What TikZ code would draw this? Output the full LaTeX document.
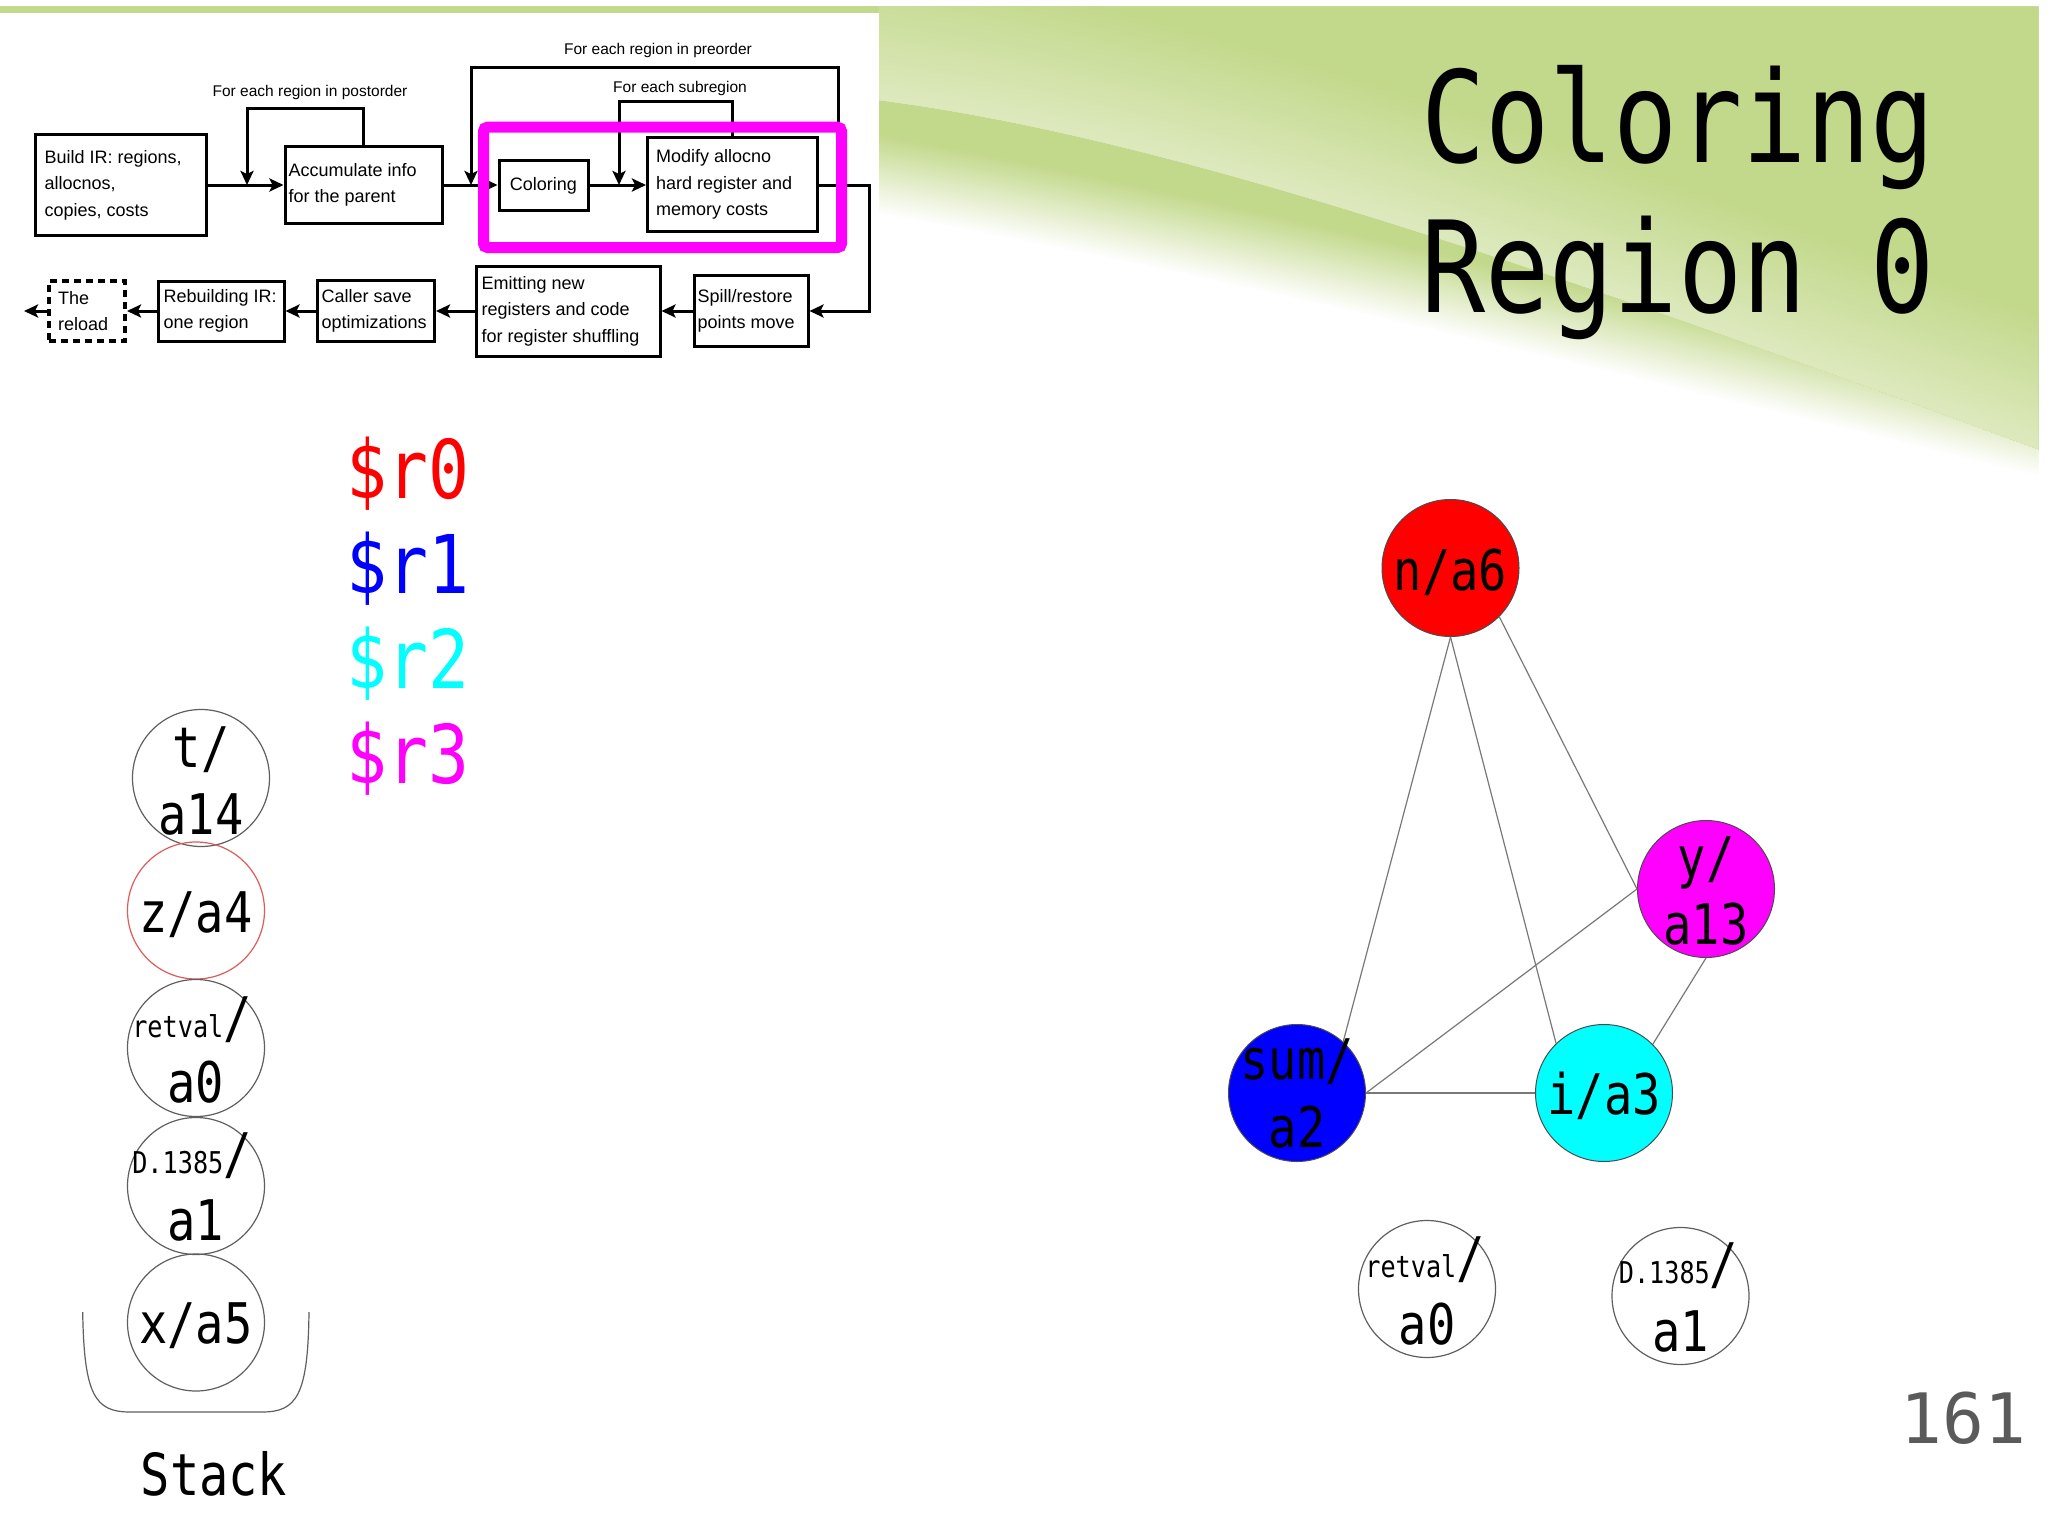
\documentclass[tikz,border=0pt]{standalone}
\usepackage{fontspec}
\usetikzlibrary{arrows.meta}
\newfontfamily\monof[FakeStretch=0.84]{DejaVu Sans Mono}
\newfontfamily\monon{DejaVu Sans Mono}
\newfontfamily\fcf{Liberation Sans}
\definecolor{bggreen}{RGB}{194,216,138}
\definecolor{pagegray}{RGB}{90,90,90}
\definecolor{nodeline}{RGB}{95,95,95}
\definecolor{edgegray}{RGB}{120,120,120}
\definecolor{zred}{RGB}{225,90,90}
\definecolor{pred}{RGB}{255,0,0}
\definecolor{pblue}{RGB}{0,0,255}
\definecolor{pcyan}{RGB}{0,255,255}
\definecolor{pmag}{RGB}{255,0,255}
\begin{document}
\begin{tikzpicture}[x=1pt,y=-1pt]
\tikzset{
 fbox/.style={draw, line width=3pt, inner sep=0pt},
 ftext/.style={font=\fcf\fontsize{18}{26.5}\selectfont, align=left, inner sep=0pt, anchor=west},
 farrow/.style={line width=3pt, -{Stealth[length=14pt,width=13pt,inset=3pt]}},
 flabel/.style={font=\fcf\fontsize{15.5}{18}\selectfont, inner sep=0pt, anchor=base},
 vnode/.style={circle, draw=nodeline, line width=1.2pt, minimum size=137pt, inner sep=0pt},
 gnode/.style={circle, draw=black!70, line width=1pt, minimum size=137pt, inner sep=0pt},
 vtxt/.style={font=\monof\fontsize{56}{67}\selectfont, inner sep=0pt, anchor=base},
 edge/.style={draw=edgegray, line width=1.2pt},
 legend/.style={font=\monof\fontsize{81}{81}\selectfont, inner sep=0pt, anchor=base west},
}
\newcommand\smallname[1]{{\fontsize{30}{30}\selectfont #1}/}
\useasboundingbox (0,0) rectangle (2048,1536);
% ---------- background ----------
\fill[white] (0,0) rectangle (2048,1536);
% fade of the green towards white along the lower curve (solid steps, light to dark)
\foreach \s in {0,2,...,80}{
  \pgfmathsetmacro\gp{\s*1.25}
  \fill[bggreen!\gp!white] (0,7) -- (2038,7) -- (2038,{477-\s}) .. controls (1700,{395-\s}) and (1200,{270-\s}) .. (879,{215-\s}) -- (879,13) -- (0,13) -- cycle;
}
% lighter swoosh above the upper curve
\begin{scope}
\clip (879,7) rectangle (2038,600);
\foreach \s in {135,132,...,3}{
  \pgfmathsetmacro\gq{100-45*(1-\s/138)}
  \fill[bggreen!\gq!white] (879,100) .. controls (1150,135) and (1500,250) .. (2038,449) -- (2038,{449-\s}) .. controls (1500,{250-\s}) and (1150,{135-\s}) .. (879,{100-\s}) -- cycle;
}
\end{scope}
% re-apply the lower fade where the swoosh crosses it
\begin{scope}
\clip (879,100) .. controls (1150,135) and (1500,250) .. (2038,449) -- (2038,7) -- (879,7) -- cycle;
\end{scope}
\fill[white] (0,13) rectangle (879,420);
% ---------- flowchart ----------
\node[fbox, minimum width=171pt, minimum height=100pt] (build) at (121,185) {};
\node[ftext] (buildT) at ([xshift=10.5pt]build.west) {Build IR: regions,\\allocnos,\\copies, costs};
\node[fbox, minimum width=157.5pt, minimum height=76pt] (accum) at (363.75,185) {};
\node[ftext] (accumT) at ([xshift=5pt]accum.west) {Accumulate info\\for the parent};
\node[fbox, minimum width=89pt, minimum height=50pt] (coloring) at (543.5,185.5) {};
\node[ftext, anchor=center] (coloringT) at (coloring.center) {Coloring};
\node[fbox, minimum width=169.5pt, minimum height=93.3pt] (modify) at (732.25,184.5) {};
\node[ftext] (modifyT) at ([xshift=10pt]modify.west) {Modify allocno\\hard register and\\memory costs};
\node[fbox, minimum width=113.5pt, minimum height=71.7pt] (spill) at (751.25,311) {};
\node[ftext] (spillT) at ([xshift=4.5pt]spill.west) {Spill/restore\\points move};
\node[fbox, minimum width=184pt, minimum height=90pt] (emit) at (568,311) {};
\node[ftext] (emitT) at ([xshift=7pt]emit.west) {Emitting new\\registers and code\\for register shuffling};
\node[fbox, minimum width=117.5pt, minimum height=61.7pt] (caller) at (375.75,311) {};
\node[ftext] (callerT) at ([xshift=6pt]caller.west) {Caller save\\optimizations};
\node[fbox, minimum width=126pt, minimum height=60pt] (rebuild) at (221,311) {};
\node[ftext] (rebuildT) at ([xshift=7pt]rebuild.west) {Rebuilding IR:\\one region};
\node[draw, line width=4pt, dash pattern=on 7pt off 5pt, inner sep=0pt, minimum width=76pt, minimum height=59.7pt] (reload) at (87,311) {};
\node[ftext] (reloadT) at ([xshift=11pt]reload.west) {The\\reload};
% loop labels
\node[flabel] (lpost) at (310,97) {For each region in postorder};
\node[flabel] (lpre) at (658,54.5) {For each region in preorder};
\node[flabel] (lsub) at (680,93) {For each subregion};
% connectors
\coordinate (postTop) at (247,109);
\coordinate (preTop) at (471,67.7);
\coordinate (preR) at (838,185);
\coordinate (subTop) at (619,101.7);
\draw[farrow] (build.east |- 0,185) -- (accum.west |- 0,185);
\draw[farrow] (accum.east |- 0,185) -- (coloring.west |- 0,185);
\draw[farrow] (coloring.east |- 0,185) -- (modify.west |- 0,185);
\draw[farrow] (accum.north) |- (postTop) -- (postTop |- 0,185);
\draw[farrow] (preR) |- (preTop) -- (preTop |- 0,185);
\draw[farrow] (modify.north) |- (subTop) -- (subTop |- 0,185);
\draw[farrow] (modify.east |- 0,185) -- ++(51,0) |- (spill.east);
\draw[farrow] (spill.west) -- (emit.east);
\draw[farrow] (emit.west) -- (caller.east);
\draw[farrow] (caller.west) -- (rebuild.east);
\draw[farrow] (rebuild.west) -- (reload.east);
\draw[farrow] (reload.west) -- ++(-23,0);
\node[draw=pmag, line width=11pt, rounded corners=4pt, inner sep=0pt, minimum width=358pt, minimum height=120.3pt] (hl) at (662.5,187.35) {};
% ---------- title ----------
\node[font=\monof\fontsize{127}{150}\selectfont, anchor=base west, inner sep=0pt] (title1) at (1421,163) {Coloring};
\node[font=\monof\fontsize{127}{150}\selectfont, anchor=base west, inner sep=0pt] (title2) at (1421,312) {Region 0};
% ---------- legend ----------
\node[legend, text=pred] (r0) at (346,498) {\$r0};
\node[legend, text=pblue] (r1) at (346,593) {\$r1};
\node[legend, text=pcyan] (r2) at (346,688) {\$r2};
\node[legend, text=pmag] (r3) at (346,783) {\$r3};
% ---------- stack ----------
\node[vnode] (ta14) at (201,778) {};
\node[vtxt] (ta14a) at ([yshift=11pt]ta14.center) {t/};
\node[vtxt] (ta14b) at ([yshift=-56pt]ta14.center) {a14};
\node[vnode, draw=zred] (za4) at (196,910.5) {};
\node[vtxt] (za4a) at ([yshift=-22pt]za4.center) {z/a4};
\node[vnode] (sa0) at (196,1048) {};
\node[vtxt] (sa0a) at ([xshift=-4pt,yshift=10.5pt]sa0.center) {\smallname{retval}};
\node[vtxt] (sa0b) at ([yshift=-54pt]sa0.center) {a0};
\node[vnode] (sa1) at (196,1186) {};
\node[vtxt] (sa1a) at ([xshift=-4pt,yshift=13pt]sa1.center) {\smallname{D.1385}};
\node[vtxt] (sa1b) at ([yshift=-54pt]sa1.center) {a1};
\node[vnode] (xa5) at (196,1322.5) {};
\node[vtxt] (xa5a) at ([yshift=-20.5pt]xa5.center) {x/a5};
\draw[nodeline, line width=1.2pt] (82.7,1312) .. controls (84,1395) and (95,1412) .. (130,1412) -- (262,1412) .. controls (297,1412) and (308,1395) .. (309,1312);
\node[font=\monof\fontsize{58}{58}\selectfont, anchor=base, inner sep=0pt] (stacklbl) at (214,1495) {Stack};
% ---------- interference graph ----------
\node[gnode, fill=pred] (n) at (1450.5,568) {};
\node[gnode, fill=pmag] (y) at (1706,889) {};
\node[gnode, fill=pblue] (sum) at (1297,1093) {};
\node[gnode, fill=pcyan] (i) at (1604,1093) {};
\draw[edge] (n.south) -- (sum.48);
\draw[edge] (n.south) -- (i.134);
\draw[edge] (n.-45) -- (y.west);
\draw[edge] (y.west) -- (sum.east);
\draw[edge] (sum.east) -- (i.west);
\draw[edge] (y.south) -- (i.45);
\node[vtxt] (nt) at ([yshift=-22pt]n.center) {n/a6};
\node[vtxt] (yt1) at ([yshift=12pt]y.center) {y/};
\node[vtxt] (yt2) at ([yshift=-55pt]y.center) {a13};
\node[vtxt] (sumt1) at ([yshift=14pt]sum.center) {sum/};
\node[vtxt] (sumt2) at ([yshift=-54pt]sum.center) {a2};
\node[vtxt] (it) at ([yshift=-21pt]i.center) {i/a3};
\node[vnode] (ga0) at (1427,1289) {};
\node[vtxt] (ga0a) at ([xshift=-2pt,yshift=12pt]ga0.center) {\smallname{retval}};
\node[vtxt] (ga0b) at ([yshift=-55pt]ga0.center) {a0};
\node[vnode] (ga1) at (1680.5,1296) {};
\node[vtxt] (ga1a) at ([xshift=-2pt,yshift=12.5pt]ga1.center) {\smallname{D.1385}};
\node[vtxt] (ga1b) at ([yshift=-55pt]ga1.center) {a1};
% ---------- page number ----------
\node[font=\monon\fontsize{69.5}{70}\selectfont, text=pagegray, anchor=base, inner sep=0pt] (pnum) at (1963.5,1443) {161};
\end{tikzpicture}
\end{document}
